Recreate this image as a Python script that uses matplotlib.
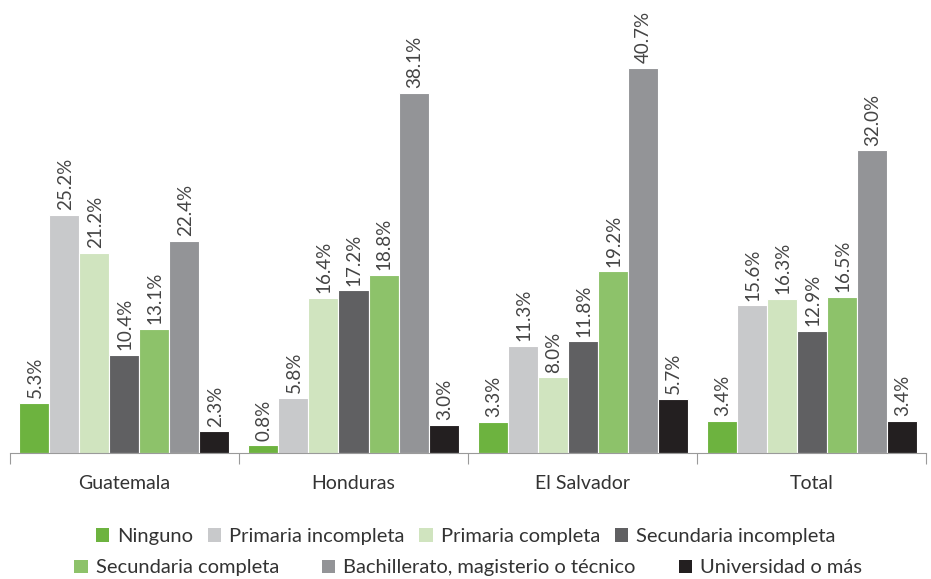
import numpy as np
import matplotlib
matplotlib.use('Agg')
import matplotlib.pyplot as plt
from matplotlib.patches import Patch

plt.rcParams['font.family'] = ['Lato', 'DejaVu Sans']

# Datos
paises = ['Guatemala', 'Honduras', 'El Salvador', 'Total']
niveles = ['Ninguno', 'Primaria incompleta', 'Primaria completa',
           'Secundaria incompleta', 'Secundaria completa',
           'Bachillerato, magisterio o técnico', 'Universidad o más']
valores = [
    [5.3, 0.8, 3.3, 3.4],      # Ninguno
    [25.2, 5.8, 11.3, 15.6],   # Primaria incompleta
    [21.2, 16.4, 8.0, 16.3],   # Primaria completa
    [10.4, 17.2, 11.8, 12.9],  # Secundaria incompleta
    [13.1, 18.8, 19.2, 16.5],  # Secundaria completa
    [22.4, 38.1, 40.7, 32.0],  # Bachillerato
    [2.3, 3.0, 5.7, 3.4],      # Universidad
]
colores = ['#6db33f', '#c8c9cb', '#d0e4bf', '#606062',
           '#8dc26a', '#939497', '#231f20']

fig = plt.figure(figsize=(9.31, 5.79), dpi=100)
ax = fig.add_axes([0.0107, 0.2176, 0.984, 0.7824])

ancho = 0.131
x = np.arange(len(paises))
for i, (nivel, vals, col) in enumerate(zip(niveles, valores, colores)):
    pos = x + (i - 3) * ancho
    ax.bar(pos, vals, width=ancho, color=col, edgecolor='white', linewidth=0.8, label=nivel)
    for p, v in zip(pos, vals):
        ax.text(p + 0.004, v + 0.5, '%.1f%%' % v, rotation=90, ha='center', va='bottom',
                fontsize=13.5, color='#444444')

ax.set_xlim(-0.5, 3.5)
ax.set_ylim(0, 47.9)

# Eje x con marcas entre grupos
for s in ['top', 'right', 'left']:
    ax.spines[s].set_visible(False)
ax.spines['bottom'].set_color('#9a9a9a')
ax.set_yticks([])
ax.set_xticks(np.arange(-0.5, 4.0, 1.0))
ax.set_xticklabels([])
ax.set_xticks(x, minor=True)
ax.set_xticklabels(paises, minor=True, fontsize=14, color='#333333')
ax.tick_params(axis='x', which='major', direction='out', length=8, color='#9a9a9a')
ax.tick_params(axis='x', which='minor', length=0, pad=16)

# Leyenda en dos filas
h = [Patch(facecolor=c) for c in colores]
leg1 = fig.legend(h[:4], niveles[:4], loc='center', bbox_to_anchor=(0.5, 0.073), ncol=4,
                  frameon=False, fontsize=14.5, handlelength=0.65, handleheight=0.65,
                  handletextpad=0.4, columnspacing=0.75, labelcolor='#333333')
leg2 = fig.legend(h[4:], niveles[4:], loc='center', bbox_to_anchor=(0.503, 0.019), ncol=3,
                  frameon=False, fontsize=14.5, handlelength=0.65, handleheight=0.65,
                  handletextpad=0.4, columnspacing=2.15, labelcolor='#333333')

plt.savefig('out.png', dpi=100)
